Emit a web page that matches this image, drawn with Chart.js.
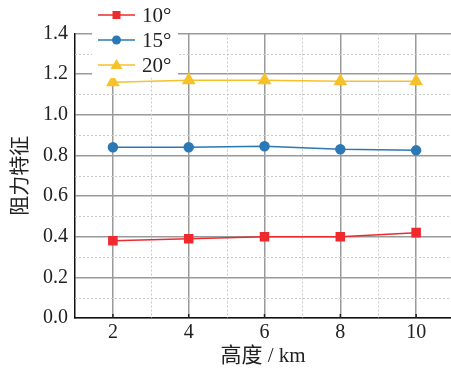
<!DOCTYPE html>
<html><head><meta charset="utf-8">
<script src="https://cdn.jsdelivr.net/npm/chart.js@4/dist/chart.umd.min.js"></script>
<style>html,body{margin:0;padding:0;background:#fff}canvas{display:block}</style>
</head><body>
<canvas id="c" width="451" height="376"></canvas>
<script>
const heights = [2, 4, 6, 8, 10];
const labels10 = "10°", labels15 = "15°", labels20 = "20°";
const drag10 = [0.38, 0.39, 0.40, 0.40, 0.42];
const drag15 = [0.84, 0.84, 0.845, 0.83, 0.825];
const drag20 = [1.16, 1.17, 1.17, 1.165, 1.165];
const yTicks = [0, 0.2, 0.4, 0.6, 0.8, 1.0, 1.2, 1.4];
const yMinor = [0.1, 0.3, 0.5, 0.7, 0.9, 1.1, 1.3];
const xMinor = [3, 5, 7, 9];

const SERIF = '"Liberation Serif", "Noto Sans CJK SC", serif';
const RED = '#ee2a2f', BLUE = '#2b78b4', YEL = '#f7c12a';

const pts = arr => heights.map((h, i) => ({x: h, y: arr[i]}));

const minorGrid = {
  id: 'minorGrid',
  beforeDatasetsDraw(chart) {
    const {ctx, chartArea: a, scales: {x, y}} = chart;
    ctx.save();
    ctx.strokeStyle = '#c8c8c8';
    ctx.lineWidth = 1;
    ctx.setLineDash([2, 2]);
    yMinor.forEach(v => {
      const py = Math.round(y.getPixelForValue(v)) + 0.5;
      ctx.beginPath(); ctx.moveTo(a.left, py); ctx.lineTo(a.right, py); ctx.stroke();
    });
    xMinor.forEach(v => {
      const px = Math.round(x.getPixelForValue(v)) + 0.5;
      ctx.beginPath(); ctx.moveTo(px, a.top); ctx.lineTo(px, a.bottom); ctx.stroke();
    });
    ctx.setLineDash([]);
    ctx.strokeStyle = '#222';
    ctx.lineWidth = 1.5;
    heights.forEach(v => {
      const px = x.getPixelForValue(v);
      ctx.beginPath(); ctx.moveTo(px, a.bottom); ctx.lineTo(px, a.bottom - 4); ctx.stroke();
    });
    ctx.restore();
  }
};

function marker(ctx, style, cx, cy, color) {
  ctx.fillStyle = color;
  ctx.beginPath();
  if (style === 'rect') { ctx.rect(cx - 4, cy - 4, 8, 8); }
  else if (style === 'circle') { ctx.arc(cx, cy, 4.5, 0, Math.PI * 2); }
  else { ctx.moveTo(cx, cy - 6); ctx.lineTo(cx + 6, cy + 4); ctx.lineTo(cx - 6, cy + 4); ctx.closePath(); }
  ctx.fill();
}

const legendBox = {
  id: 'legendBox',
  afterDraw(chart) {
    const {ctx} = chart;
    ctx.save();
    ctx.fillStyle = '#fff';
    ctx.fillRect(92, 0, 86, 78);
    const ys = [15, 40, 65];
    chart.data.datasets.forEach((ds, i) => {
      const y = ys[i];
      ctx.strokeStyle = ds.borderColor;
      ctx.lineWidth = 1.5;
      ctx.beginPath(); ctx.moveTo(98, y); ctx.lineTo(135, y); ctx.stroke();
      marker(ctx, ds.pointStyle, 116.5, y, ds.borderColor);
      ctx.fillStyle = '#222';
      ctx.font = '21px ' + SERIF;
      ctx.textBaseline = 'middle';
      ctx.textAlign = 'left';
      ctx.fillText(ds.label, 142, y + 1);
    });
    ctx.restore();
  }
};

new Chart(document.getElementById('c'), {
  type: 'line',
  data: {
    datasets: [
      {label: labels10, data: pts(drag10), borderColor: RED, backgroundColor: RED, pointStyle: 'rect', pointRadius: 5.7, borderWidth: 1.5},
      {label: labels15, data: pts(drag15), borderColor: BLUE, backgroundColor: BLUE, pointStyle: 'circle', pointRadius: 4.5, borderWidth: 1.5},
      {label: labels20, data: pts(drag20), borderColor: YEL, backgroundColor: YEL, pointStyle: 'triangle', pointRadius: 6.5, borderWidth: 1.5}
    ]
  },
  options: {
    responsive: false,
    animation: false,
    devicePixelRatio: 1,
    layout: {autoPadding: false, padding: {top: 33.5, right: 0, left: 0, bottom: 0}},
    plugins: {legend: {display: false}, tooltip: {enabled: false}},
    elements: {point: {borderWidth: 0}, line: {tension: 0}},
    scales: {
      x: {
        type: 'linear', min: 1, max: 10.92,
        afterBuildTicks: s => { s.ticks = heights.map(v => ({value: v})); },
        afterFit: s => { s.height = 58; s.paddingLeft = 0; s.paddingRight = 0; },
        grid: {color: '#9a9a9a', lineWidth: 1.5, drawTicks: false},
        border: {display: true, color: '#111', width: 1.5},
        ticks: {color: '#222', font: {family: SERIF, size: 20}, padding: 3, maxRotation: 0},
        title: {display: true, text: '高度 / km', color: '#222', font: {family: SERIF, size: 21}, padding: {top: 0, bottom: 7}}
      },
      y: {
        type: 'linear', min: 0, max: 1.4,
        afterBuildTicks: s => { s.ticks = yTicks.map(v => ({value: v})); },
        afterFit: s => { s.width = 75; s.paddingTop = 0; s.paddingBottom = 0; },
        grid: {color: '#9a9a9a', lineWidth: 1.5, drawTicks: false},
        border: {display: true, color: '#111', width: 1.5},
        ticks: {color: '#222', font: {family: SERIF, size: 20}, padding: 7, callback: v => v.toFixed(1)},
        title: {display: true, text: '阻力特征', color: '#222', font: {family: SERIF, size: 20}, padding: {top: 10, bottom: 0}}
      }
    }
  },
  plugins: [minorGrid, legendBox]
});
</script>
</body></html>
